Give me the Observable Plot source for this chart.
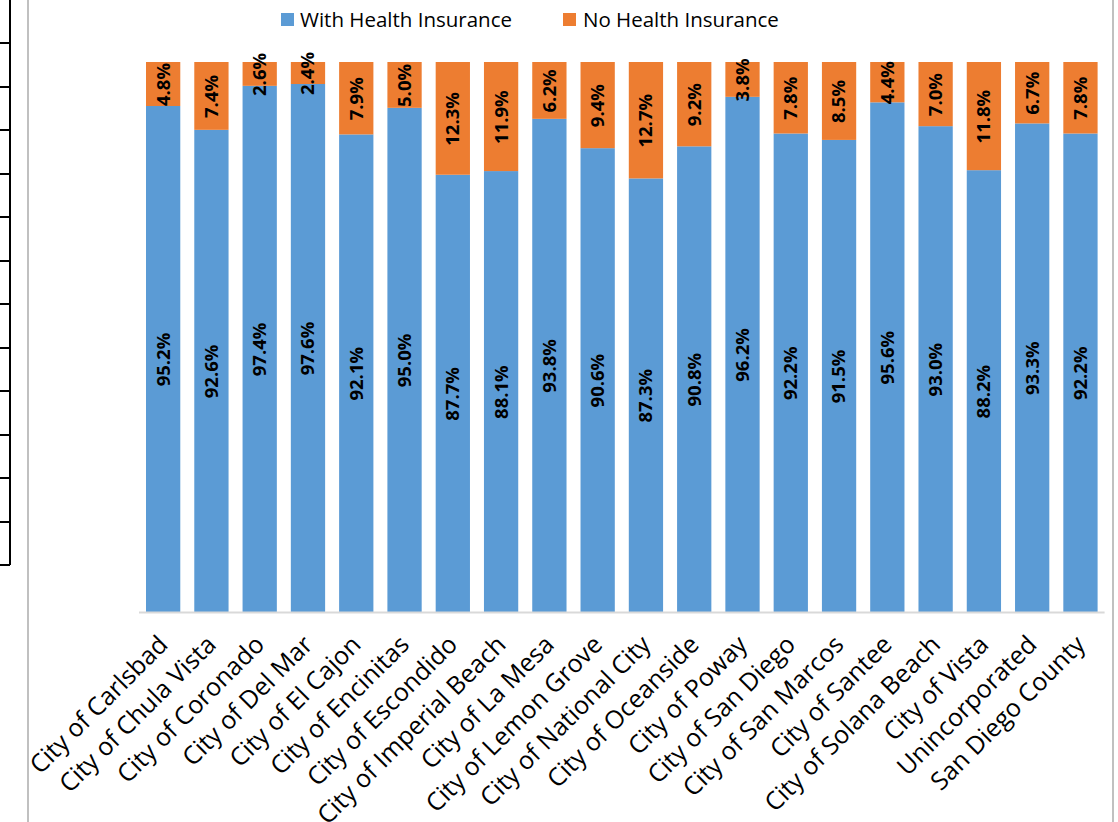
<!DOCTYPE html>
<html>
<head>
<meta charset="utf-8">
<script src="https://cdn.jsdelivr.net/npm/d3@7"></script>
<script src="https://cdn.jsdelivr.net/npm/@observablehq/plot@0.6"></script>
<style>
  html, body { margin: 0; padding: 0; background: #fff; overflow: hidden; }
  body { width: 1118px; height: 822px; position: relative; font-family: "Open Sans", sans-serif; }
  #legend { position: relative; height: 40px; }
  .sw { position: absolute; width: 13px; height: 13px; top: 13px; }
  .lt { position: absolute; top: 4px; font-size: 20.5px; color: #000; line-height: 30px; white-space: nowrap; }
  .deco { position: absolute; }
  #chart { position: absolute; left: 0; top: 40px; }
  #chart svg { overflow: visible; }
</style>
</head>
<body>
<div id="legend"></div>
<div id="chart"></div>
<script>
const cities = [
  "City of Carlsbad", "City of Chula Vista", "City of Coronado", "City of Del Mar",
  "City of El Cajon", "City of Encinitas", "City of Escondido", "City of Imperial Beach",
  "City of La Mesa", "City of Lemon Grove", "City of National City", "City of Oceanside",
  "City of Poway", "City of San Diego", "City of San Marcos", "City of Santee",
  "City of Solana Beach", "City of Vista", "Unincorporated", "San Diego County"
];
const withInsurance = [95.2, 92.6, 97.4, 97.6, 92.1, 95.0, 87.7, 88.1, 93.8, 90.6, 87.3, 90.8, 96.2, 92.2, 91.5, 95.6, 93.0, 88.2, 93.3, 92.2];
const noInsurance   = [4.8, 7.4, 2.6, 2.4, 7.9, 5.0, 12.3, 11.9, 6.2, 9.4, 12.7, 9.2, 3.8, 7.8, 8.5, 4.4, 7.0, 11.8, 6.7, 7.8];
const seriesNames = ["With Health Insurance", "No Health Insurance"];
const seriesColors = ["#5B9BD5", "#ED7D31"];
const yDomain = [40, 100];

// legend
const legend = document.getElementById("legend");
const legendPos = [[281, 300], [563, 583]];
seriesNames.forEach((name, i) => {
  const sw = document.createElement("div");
  sw.className = "sw"; sw.style.left = legendPos[i][0] + "px"; sw.style.background = seriesColors[i];
  const t = document.createElement("div");
  t.className = "lt"; t.style.left = legendPos[i][1] + "px"; t.textContent = name;
  legend.appendChild(sw); legend.appendChild(t);
});

// cropped border decorations from the original screenshot
function line(l, t, w, h, c) {
  const d = document.createElement("div");
  d.className = "deco";
  Object.assign(d.style, {left: l + "px", top: t + "px", width: w + "px", height: h + "px", background: c});
  document.body.appendChild(d);
}
line(27, 0, 2, 822, "#c0c0c0");
line(1112, 0, 2, 822, "#c0c0c0");
line(9, 0, 2, 565, "#000");
for (let k = 0; k < 13; k++) line(0, Math.round(42 + k * 43.5), 10, 2, "#000");

const rows = cities.flatMap((c, i) => [
  {city: c, type: seriesNames[0], value: withInsurance[i]},
  {city: c, type: seriesNames[1], value: noInsurance[i]}
]);
const withLabels = cities.map((c, i) => ({city: c, y: (yDomain[0] + withInsurance[i]) / 2, t: withInsurance[i].toFixed(1) + "%"}));
const noLabels = cities.map((c, i) => ({city: c, y: withInsurance[i] + noInsurance[i] / 2, t: noInsurance[i].toFixed(1) + "%"}));

const chart = Plot.plot({
  width: 1118,
  height: 782,
  marginTop: 22,
  marginBottom: 210,
  marginLeft: 139,
  marginRight: 13.4,
  style: {fontFamily: "Open Sans", background: "transparent", color: "#000"},
  x: {domain: cities, paddingInner: 0.29, paddingOuter: 0.145, round: false, label: null},
  y: {domain: yDomain, axis: null},
  color: {domain: seriesNames, range: seriesColors},
  marks: [
    Plot.barY(rows, {x: "city", y: "value", fill: "type", order: seriesNames, clip: true}),
    Plot.ruleY([yDomain[0]], {stroke: "#d9d9d9", strokeWidth: 2}),
    Plot.text(withLabels, {x: "city", y: "y", text: "t", rotate: -90, fontWeight: "bold", fontSize: 18.5, fill: "#000"}),
    Plot.text(noLabels, {x: "city", y: "y", text: "t", rotate: -90, fontWeight: "bold", fontSize: 18.5, fill: "#000"}),
    Plot.axisX({tickRotate: -45, tickSize: 0, tickPadding: 28, fontSize: 25, label: null})
  ]
});
document.getElementById("chart").appendChild(chart);
</script>
</body>
</html>
